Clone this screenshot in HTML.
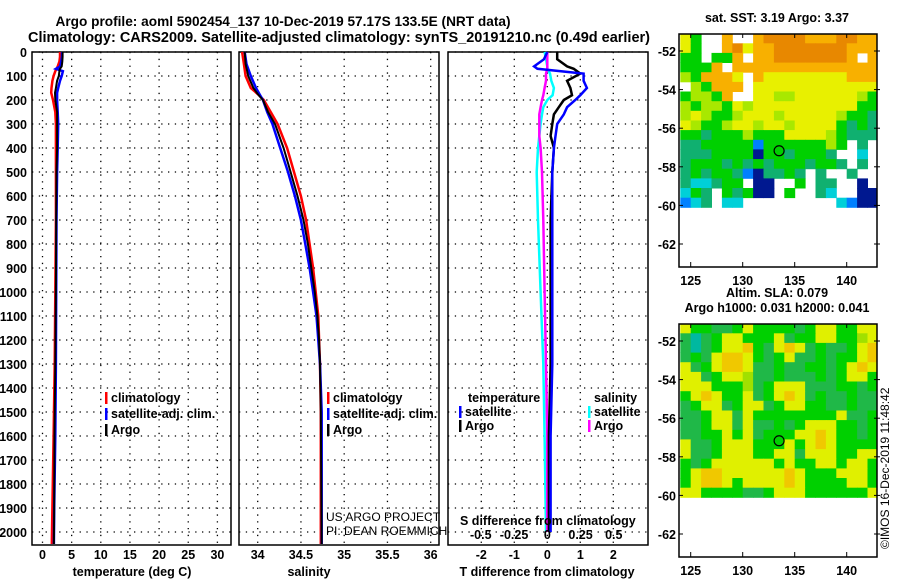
<!DOCTYPE html>
<html><head><meta charset="utf-8"><style>
body{margin:0;background:#fff;}
svg{display:block;font-family:"Liberation Sans",Arial,sans-serif;}
.b{font-weight:bold;}
</style></head><body>
<svg id="s" width="900" height="580" viewBox="0 0 900 580" xmlns="http://www.w3.org/2000/svg">
<text x="283" y="26" text-anchor="middle" class="b" font-size="14" textLength="455" lengthAdjust="spacingAndGlyphs">Argo profile: aoml 5902454_137 10-Dec-2019 57.17S 133.5E (NRT data)</text>
<text x="339" y="42" text-anchor="middle" class="b" font-size="14.5" textLength="622" lengthAdjust="spacingAndGlyphs">Climatology: CARS2009. Satellite-adjusted climatology: synTS_20191210.nc (0.49d earlier)</text>
<g id="g"></g>
</svg>
<script>
// ---------- profile data ----------
const depthTicks = [0,100,200,300,400,500,600,700,800,900,1000,1100,1200,1300,1400,1500,1600,1700,1800,1900,2000];
const tDepth = [0,20,40,60,70,80,100,120,150,170,200,250,300,400,500,700,1000,1300,1600,1900,2050];
const argoT = [3.45,3.45,3.4,3.3,3.0,2.9,2.8,2.5,2.3,2.15,2.2,2.5,2.5,2.5,2.4,2.35,2.3,2.2,2.05,2.0,1.95];
const climT = [3.0,3.0,2.9,2.6,2.4,2.2,1.9,1.7,1.55,1.5,1.8,2.2,2.3,2.3,2.3,2.3,2.2,2.1,1.9,1.7,1.6];
const satT  = [3.35,3.35,3.2,3.0,2.3,3.5,3.3,3.0,2.7,2.5,2.5,2.6,2.7,2.6,2.5,2.4,2.35,2.3,2.2,2.0,1.95];
const tTicks = [0,5,10,15,20,25,30];

const sDepth = [0,50,100,150,175,200,250,300,400,500,600,700,800,900,1000,1100,1200,1300,1500,2050];
const argoS = [33.85,33.86,33.89,33.95,34.0,34.06,34.12,34.2,34.3,34.38,34.46,34.53,34.58,34.62,34.66,34.69,34.71,34.72,34.73,34.74];
const climS = [33.82,33.84,33.86,33.92,34.0,34.07,34.15,34.23,34.34,34.42,34.5,34.56,34.6,34.64,34.67,34.70,34.71,34.72,34.73,34.73];
const satS  = [33.85,33.87,33.92,33.98,34.02,34.06,34.11,34.17,34.26,34.35,34.43,34.5,34.55,34.6,34.64,34.68,34.70,34.72,34.74,34.74];
const sTicks = [34,34.5,35,35.5,36];

const dDepth = [0,30,60,70,90,120,150,180,200,230,260,300,350,400,500,700,1000,1300,1600,2000];
const argoTd = [0.3,0.3,0.6,0.8,1.0,0.6,0.7,0.75,0.5,0.35,0.2,0.15,0.1,0.2,0.15,0.1,0.1,0.1,0.05,0.05];
const satTd  = [0.0,-0.1,-0.4,-0.3,1.1,1.1,1.2,1.0,0.85,0.6,0.5,0.3,0.25,0.2,0.15,0.15,0.15,0.15,0.1,0.1];
const argoSd = [0.0,0.0,0.0,0.0,-0.01,-0.01,-0.02,-0.03,-0.04,-0.05,-0.06,-0.06,-0.06,-0.05,-0.04,-0.03,-0.02,-0.01,0.0,0.0];
const satSd  = [-0.02,-0.01,0.0,0.0,0.02,0.03,0.05,0.04,0.0,-0.03,-0.04,-0.05,-0.06,-0.07,-0.08,-0.07,-0.05,-0.03,-0.02,-0.01];
const tdTicks = [-2,-1,0,1,2];
const sdTicks = [-0.5,-0.25,0,0.25,0.5];

// ---------- map data (1 deg lon x 0.5 deg lat cells, from -51.1) ----------
const lonTicks = [125,130,135,140];
const latTicks = [-52,-54,-56,-58,-60,-62];
const sstRows = [
"yg..o..oOOOOoooOOoo","yg..oOyooOOOOOOOooo","gg.ggo.ooOOOOOOOo.o","gggo.oooooooooooooo",
"lgoooy.oyyyyyyyyooo",".lgooo.yyyyyyyyyyyy","gllgo..yyllyyyyyylg","lgllgylyyyyyyyyyygg",
"lylgglyyylyyyyylggt","ylgglyylyylyyyygtgt","ggtggglgggyyyylgttt","ttgggggbgggggglg.t.",
"tttggggnggtgggt..c.","tgggtgtgtgggtggt.t.","tgtggtbnttgt.t..t..","tcctgg.nn..g.tt..n.",
"cgt.gtgnn.g..tc..nn","bct.cc.........cbnn"];
const slaRows = [
"yggGGgyggggGgyyggyy","GcGgyygggyGggyyggly","GcGgyyYgGyYyGgGGgyY","GgGyYYygGgyGGgGggyY",
"yGgyYYyGGgGGggGgyYy","yyGgyylGGgGGGgGgyyg","yyyggglGgyyyGGGggGg","gyYyggyGgyYyGgGGgGG",
"GgyyGgyyGgyyggGGgGG","GGgyyGyggggggggyGGg","GGgyyGyGGgGgyyyggGg","GGggygyGgggyyYyggGg",
"yGGgyyygggygyYygggg","yGGgyyyggyyGyyyggyy","gGgyyyyyygyggyygyyg","gyYYyyyyyyYygggyyyg",
"gyYYygyyyyYyggggyyg","yyggggGGgyyyggggggy"];
const argoLon = 133.5, argoLat = -57.17;

const NS="http://www.w3.org/2000/svg";
const G=document.getElementById('g');
function el(t,a,p){const e=document.createElementNS(NS,t);for(const k in a)e.setAttribute(k,a[k]);(p||G).appendChild(e);return e;}
function txt(x,y,s,a,p){const e=el('text',Object.assign({x:x,y:y},a||{}),p);e.textContent=s;return e;}
const Y0=52,Y1=545;
const yD=d=>Y0+d*0.24;

const panels=[
 {name:'temperature',x0:32,x1:231,fx:v=>42.5+v*5.83},
 {name:'salinity',x0:239,x1:439,fx:v=>257.7+(v-34)*86.5},
 {name:'difference',x0:448,x1:648,fx:v=>547.3+v*33}
];
panels.forEach((p,i)=>{
  const grp=el('g',{});
  
  
  depthTicks.forEach(d=>{const l=el('line',{x1:p.x0,x2:p.x1,y1:yD(d),y2:yD(d),stroke:'#000','stroke-width':1.3,'stroke-dasharray':'1.3 5.5'},grp);
    });
  const ticks=i==0?tTicks:i==1?sTicks:tdTicks;
  ticks.forEach(v=>{const x=p.fx(v);const l=el('line',{x1:x,x2:x,y1:Y0,y2:Y1,stroke:'#000','stroke-width':1.3,'stroke-dasharray':'1.3 5.5'},grp);
    
    const t=txt(x,559,String(v),{'text-anchor':'middle','class':'b','font-size':12.5},grp);
    });
  const r=el('rect',{x:p.x0,y:Y0,width:p.x1-p.x0,height:Y1-Y0,fill:'none',stroke:'#000','stroke-width':1.5},grp);
  
});
depthTicks.forEach(d=>{const t=txt(27,yD(d)+5,String(d),{'text-anchor':'end','class':'b','font-size':12.5});
  });
[['temperature (deg C)',132],['salinity',309],['T difference from climatology',547]].forEach(a=>{
  const t=txt(a[1],576,a[0],{'text-anchor':'middle','class':'b','font-size':12.5});
  });

function line(fx,vals,deps,col,name,w){
  const pts=vals.map((v,i)=>fx(v).toFixed(1)+','+yD(deps[i]).toFixed(1)).join(' ');
  const l=el('polyline',{points:pts,fill:'none',stroke:col,'stroke-width':w||2.5});
  
  
}
const p1=panels[0].fx,p2=panels[1].fx,p3=panels[2].fx,ps=v=>547.3+v*133;
line(p1,climT,tDepth,'#f00','temp-climatology-line');
line(p1,satT,tDepth,'#00f','temp-satellite-line');
line(p1,argoT,tDepth,'#000','temp-argo-line',2);
line(p2,climS,sDepth,'#f00','sal-climatology-line');
line(p2,satS,sDepth,'#00f','sal-satellite-line');
line(p2,argoS,sDepth,'#000','sal-argo-line',2);
line(ps,satSd,dDepth,'#0ff','sdiff-satellite-line');
line(ps,argoSd,dDepth,'#f0f','sdiff-argo-line');
line(p3,argoTd,dDepth,'#000','tdiff-argo-line');
line(p3,satTd,dDepth,'#00f','tdiff-satellite-line');

const sl=txt(460,525,'S difference from climatology',{'class':'b','font-size':12.5});

sdTicks.forEach(v=>{const t=txt(ps(v),539,String(v),{'text-anchor':'middle','class':'b','font-size':12.5});
  });

function leg(x,y,col,label){
  const g=el('g',{});
  
  
  el('rect',{x:x,y:y-10,width:2.5,height:12,fill:col},g);
  txt(x+6,y,label,{'class':'b','font-size':12.5},g);
}
leg(105,402,'#f00','climatology');leg(105,418,'#00f','satellite-adj. clim.');leg(105,434,'#000','Argo');
leg(327,402,'#f00','climatology');leg(327,418,'#00f','satellite-adj. clim.');leg(327,434,'#000','Argo');
const lt=txt(468,402,'temperature',{'class':'b','font-size':12.5});
const ls=txt(594,402,'salinity',{'class':'b','font-size':12.5});
leg(459,416,'#00f','satellite');leg(459,430,'#000','Argo');
leg(588,416,'#0ff','satellite');leg(588,430,'#f0f','Argo');
const c1=txt(326,521,'US ARGO PROJECT',{'font-size':12});
const c2=txt(326,535,'PI: DEAN ROEMMICH',{'font-size':12});

// ---------- maps ----------
const sstCol={o:'#f8b000',O:'#e88800',y:'#e8f000',l:'#a8e800',g:'#00d000',t:'#10b070',c:'#00d0d8',b:'#0080ff',n:'#001890'};
const slaCol={y:'#e0f000',Y:'#f0c800',l:'#a0e000',g:'#00d000',G:'#20b848',c:'#00b8a0'};
const MX0=679,MX1=877,lonX=lo=>690.7+(lo-125)*10.4;
function drawMap(top,rows,cols,title,name){
  const lat52=top+17,latY=la=>lat52+(-52-la)*19.3;
  const grp=el('g',{});
  
  
  rows.forEach((r,ri)=>{for(let ci=0;ci<19;ci++){const ch=r[ci];if(!ch||!cols[ch])continue;
    const lo=124+ci, la=-51.1-ri*0.5;
    const x=Math.max(MX0,lonX(lo)),x2=Math.min(MX1,lonX(lo)+10.9),y=latY(la);
    const c=el('rect',{x:x.toFixed(1),y:y.toFixed(1),width:(x2-x).toFixed(1),height:10.1,fill:cols[ch]},grp);
    }});
  const fr=el('rect',{x:MX0,y:top,width:MX1-MX0,height:233,fill:'none',stroke:'#000','stroke-width':1.5},grp);
  
  lonTicks.forEach(lo=>{const x=lonX(lo);el('line',{x1:x,x2:x,y1:top+233,y2:top+228,stroke:'#000'},grp);el('line',{x1:x,x2:x,y1:top,y2:top+4,stroke:'#000'},grp);
    const t=txt(x,top+251,String(lo),{'text-anchor':'middle','class':'b','font-size':12.5},grp);});
  latTicks.forEach(la=>{const y=latY(la);el('line',{x1:MX1-3,x2:MX1+3,y1:y,y2:y,stroke:'#000'},grp);el('line',{x1:MX0,x2:MX0+4,y1:y,y2:y,stroke:'#000'},grp);
    const t=txt(MX0-3,y+5,String(la),{'text-anchor':'end','class':'b','font-size':12.5},grp);});
  const m=el('circle',{cx:lonX(argoLon),cy:latY(argoLat),r:5,fill:'none',stroke:'#000','stroke-width':1.2},grp);
  
  title.forEach((s,i)=>{const t=txt(777,top-(title.length-i)*15+3,s,{'text-anchor':'middle','class':'b','font-size':12.5},grp);
    });
}
drawMap(34,sstRows,sstCol,['sat. SST: 3.19 Argo: 3.37'],'sst-map');
drawMap(324,slaRows,slaCol,['Altim. SLA: 0.079','Argo h1000: 0.031 h2000: 0.041'],'sla-map');
const cp=txt(0,0,'©IMOS 16-Dec-2019 11:48:42',{'font-size':12,transform:'translate(889,549) rotate(-90)'});

</script>
</body></html>
